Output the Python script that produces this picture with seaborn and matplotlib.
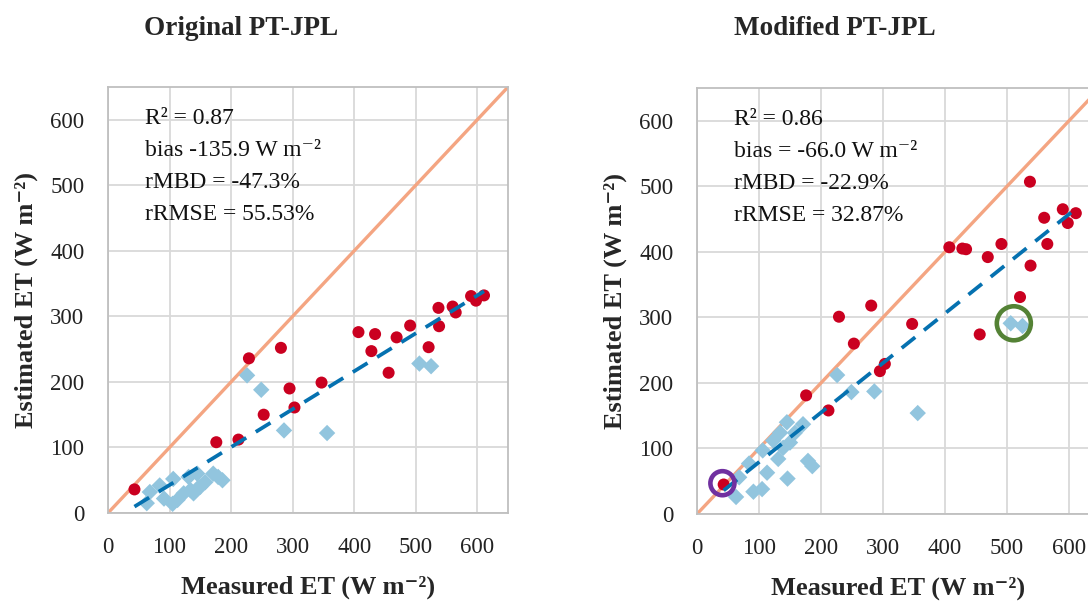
import matplotlib
matplotlib.use("Agg")
import matplotlib.pyplot as plt
import numpy as np
import pandas as pd
import seaborn as sns


# measured ET (W m-2) for the two groups of sites
x_red = [43, 176, 212, 229, 253, 281, 295, 303, 347, 407, 428, 434,
         456, 469, 491, 521, 537, 538, 560, 565, 590, 598, 611]
x_blue = [63, 68, 84, 91, 105, 106, 113, 123, 131, 134, 139, 145,
          146, 150, 158, 171, 179, 186, 226, 249, 286, 356, 506, 525]

# estimated ET, original model
y_red_orig = [36, 108, 112, 236, 150, 252, 190, 161, 199, 276, 247, 273,
              214, 268, 286, 253, 313, 285, 315, 306, 331, 324, 332]
y_blue_orig = [15, 32, 42, 22, 14, 52, 20, 30, 55, 35, 30, 60,
               38, 40, 47, 60, 55, 50, 210, 188, 126, 122, 228, 224]

# estimated ET, modified model
y_red_mod = [45, 181, 158, 301, 260, 318, 218, 229, 290, 407, 405, 404,
             274, 392, 412, 331, 507, 379, 452, 412, 465, 444, 459]
y_blue_mod = [26, 56, 77, 34, 38, 97, 63, 112, 84, 124, 101, 140,
              54, 109, 124, 137, 81, 73, 212, 186, 187, 154, 291, 287]

panel_titles = ["Original PT-JPL", "Modified PT-JPL"]
stats_orig = ["R² = 0.87", "bias -135.9 W m⁻²", "rMBD = -47.3%", "rRMSE = 55.53%"]
stats_mod = ["R² = 0.86", "bias = -66.0 W m⁻²", "rMBD = -22.9%", "rRMSE = 32.87%"]

# highlighted points in the modified panel (measured, estimated)
purple_pt = (41, 47)
green_pt = (511, 291)

ticks = [0, 100, 200, 300, 400, 500, 600]

RED = "#CA0020"
SALMON = "#F4A582"
LIGHTBLUE = "#92C5DE"
DARKBLUE = "#0571B0"
SERIF = "Liberation Serif"


def draw_panel(ax, y_red, y_blue, stats):
    red_df = pd.DataFrame({"x": x_red, "y": y_red})
    blue_df = pd.DataFrame({"x": x_blue, "y": y_blue})
    all_df = pd.concat([red_df, blue_df], ignore_index=True)

    ax.axline((0, 0), slope=1, color=SALMON, lw=2.4, zorder=2)
    sns.scatterplot(data=blue_df, x="x", y="y", marker="D", s=70, color=LIGHTBLUE,
                    edgecolor="none", ax=ax, zorder=3)
    sns.scatterplot(data=red_df, x="x", y="y", marker="o", s=75, color=RED,
                    edgecolor="none", ax=ax, zorder=4)
    sns.regplot(data=all_df, x="x", y="y", scatter=False, ci=None, truncate=True,
                line_kws={"color": DARKBLUE, "lw": 2.7, "dashes": (4.6, 3.0), "zorder": 5},
                ax=ax)

    ax.set_xlim(0, 650)
    ax.set_ylim(0, 650)
    ax.set_xticks(ticks)
    ax.set_yticks(ticks)
    ax.grid(True, color="#D9D9D9", lw=1.3)
    ax.set_axisbelow(True)
    for sp in ax.spines.values():
        sp.set_color("#BFBFBF")
        sp.set_linewidth(1.3)
    ax.tick_params(axis="both", length=0, labelsize=16.5, labelcolor="#222222")
    ax.tick_params(axis="x", pad=17)
    ax.tick_params(axis="y", pad=17)
    for lab in ax.get_xticklabels() + ax.get_yticklabels():
        lab.set_fontfamily(SERIF)

    ax.set_xlabel("Measured ET (W m⁻²)", fontsize=19, fontweight="bold",
                  family=[SERIF, "DejaVu Serif"], labelpad=13)
    ax.set_ylabel("Estimated ET (W m⁻²)", fontsize=19, fontweight="bold",
                  family=[SERIF, "DejaVu Serif"], labelpad=9)

    for i, line in enumerate(stats):
        ax.text(0.093, 0.926 - i * 0.075, line, transform=ax.transAxes, fontsize=17,
                family=[SERIF, "DejaVu Serif"], va="center", ha="left", color="#111111")


sns.set_theme(style="whitegrid")
plt.rcParams["font.family"] = [SERIF, "DejaVu Serif"]

fig = plt.figure(figsize=(10.88, 6.07), dpi=100)
ax1 = fig.add_axes([108 / 1088, 94 / 607, 400 / 1088, 426 / 607])
ax2 = fig.add_axes([697 / 1088, 93 / 607, 403 / 1088, 426 / 607])

draw_panel(ax1, y_red_orig, y_blue_orig, stats_orig)
draw_panel(ax2, y_red_mod, y_blue_mod, stats_mod)

# circled points
ax2.scatter([purple_pt[0]], [purple_pt[1]], s=300, facecolors="none",
            edgecolors="#7030A0", linewidths=3.3, zorder=6, clip_on=False)
ax2.scatter([green_pt[0]], [green_pt[1]], s=600, facecolors="none",
            edgecolors="#548235", linewidths=3.3, zorder=6)

fig.text(241 / 1088, 1 - 16 / 607, panel_titles[0], ha="center", va="top",
         fontsize=19.5, fontweight="bold", family=SERIF)
fig.text(835 / 1088, 1 - 16 / 607, panel_titles[1], ha="center", va="top",
         fontsize=19.5, fontweight="bold", family=SERIF)

fig.savefig("out.png", dpi=100)
